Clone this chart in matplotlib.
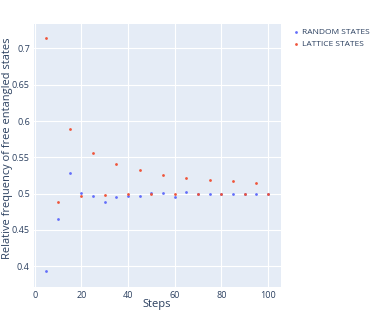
import matplotlib
matplotlib.use("Agg")
import matplotlib.pyplot as plt

plt.rcParams["font.family"] = ["Open Sans", "DejaVu Sans"]

steps = [5, 10, 15, 20, 25, 30, 35, 40, 45, 50, 55, 60, 65, 70, 75, 80, 85, 90, 95, 100]
random_states = [0.393, 0.465, 0.528, 0.5005, 0.497, 0.489, 0.496, 0.497, 0.497, 0.5014,
                 0.501, 0.496, 0.502, 0.4995, 0.500, 0.4995, 0.4988, 0.4995, 0.500, 0.500]
lattice_states = [0.714, 0.489, 0.589, 0.497, 0.5555, 0.4986, 0.5407, 0.499, 0.532, 0.4995,
                  0.5262, 0.4995, 0.522, 0.4995, 0.5193, 0.4995, 0.517, 0.4995, 0.5152, 0.500]

txt = "#2a3f5f"
fig = plt.figure(figsize=(3.74, 3.14), dpi=100)
ax = fig.add_axes([34/374, 27/314, 247/374, 263/314])
ax.set_facecolor("#E5ECF6")
ax.scatter(steps, random_states, s=4, color="#636efa", label="RANDOM STATES", zorder=3, linewidths=0)
ax.scatter(steps, lattice_states, s=4, color="#EF553B", label="LATTICE STATES", zorder=3, linewidths=0)

ax.set_xlim(-0.3, 105.5)
ax.set_ylim(0.3714, 0.7336)
ax.set_xticks([0, 20, 40, 60, 80, 100])
ax.set_yticks([0.4, 0.45, 0.5, 0.55, 0.6, 0.65, 0.7])
ax.set_yticklabels(["0.4", "0.45", "0.5", "0.55", "0.6", "0.65", "0.7"])
ax.grid(color="white", linewidth=0.8)
ax.set_axisbelow(True)
for s in ax.spines.values():
    s.set_visible(False)
ax.tick_params(length=0, labelsize=6.5, colors=txt, pad=3)

# axis titles placed like the plotly layout
fig.text(157/374, 1 - 305/314, "Steps", fontsize=8, color=txt, ha="center", va="center")
fig.text(8/374, 1 - 148/314, "Relative frequency of free entangled states", fontsize=7.9,
         color=txt, ha="center", va="center", rotation=90)

fig.legend(loc="upper left", bbox_to_anchor=(288/374, 1 - 25/314), frameon=False,
           fontsize=6, labelcolor=txt, handletextpad=0.3, handlelength=1.0,
           borderaxespad=0, labelspacing=0.45, markerscale=1.0)

fig.savefig("out.png", dpi=100)
